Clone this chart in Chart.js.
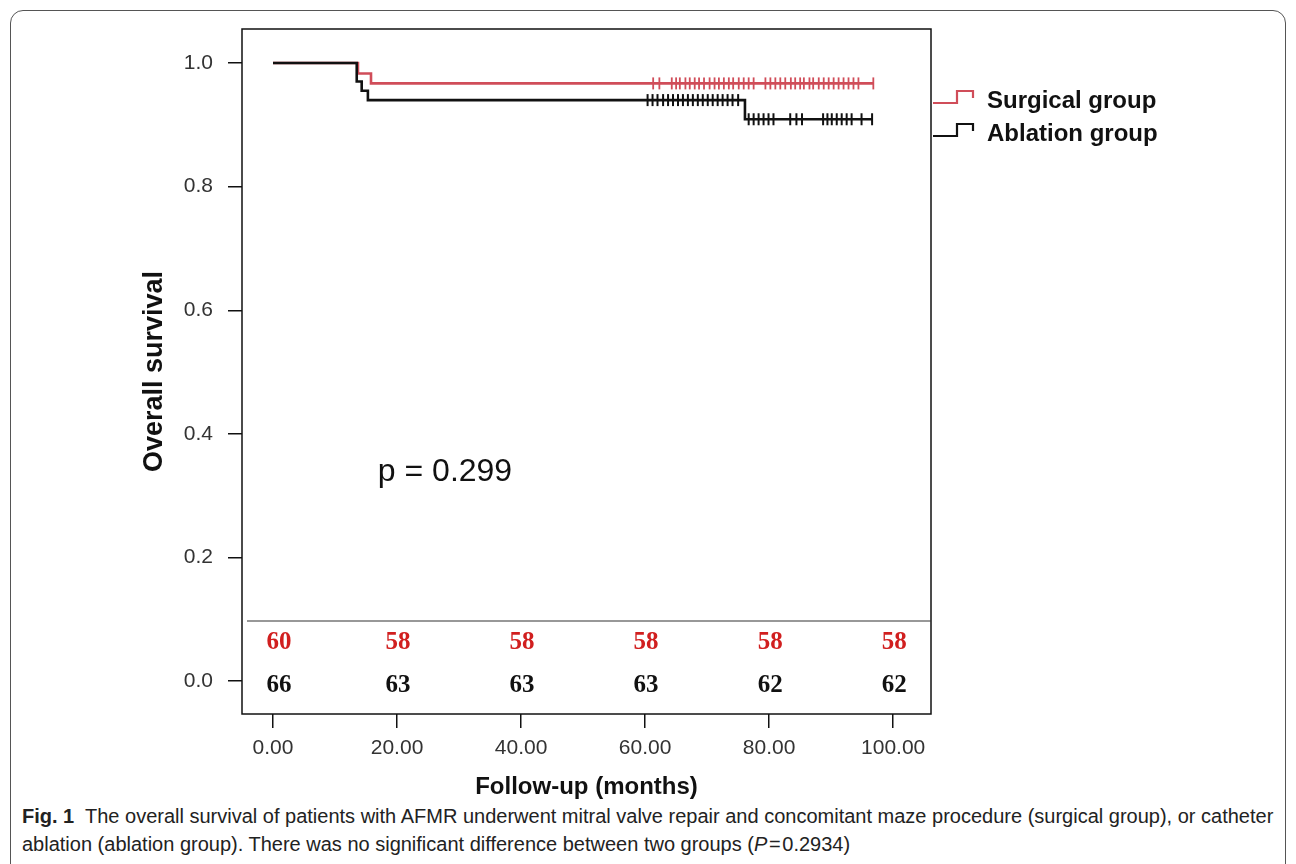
<!DOCTYPE html>
<html>
<head>
<meta charset="utf-8">
<script src="https://cdn.jsdelivr.net/npm/chart.js@4.4.1/dist/chart.umd.min.js"></script>
<style>
  html, body { margin: 0; padding: 0; background: #fff; width: 1296px; height: 864px; overflow: hidden; }
  #frame { position: absolute; left: 10px; top: 10px; width: 1274px; height: 900px; border: 1.5px solid #555; border-radius: 13px; }
  #wrap { position: absolute; left: 0; top: 0; width: 1296px; height: 800px; }
  #cap { position: absolute; left: 22px; top: 802px; font-family: 'Liberation Sans', Arial, sans-serif; font-size: 20px; line-height: 28px; color: #222; white-space: nowrap; }
</style>
</head>
<body>
<div id="frame"></div>
<div id="wrap"><canvas id="myChart" width="1296" height="800"></canvas></div>
<div id="cap"><b>Fig. 1</b>&nbsp; The overall survival of patients with AFMR underwent mitral valve repair and concomitant maze procedure (surgical group), or catheter<br>ablation (ablation group). There was no significant difference between two groups (<i>P</i>&#8202;=&#8202;0.2934)</div>
<script>
const xTicks = [0, 20, 40, 60, 80, 100];
const yTicks = [0, 0.2, 0.4, 0.6, 0.8, 1.0];

// Kaplan-Meier steps (time in months, survival after the event)
const surgicalTimes = [0, 13.7, 15.8, 96.8];
const surgicalSurv = [1.0, 0.983, 0.967, 0.967];
const ablationTimes = [0, 13.5, 14.3, 15.3, 76.1, 96.6];
const ablationSurv = [1.0, 0.970, 0.955, 0.940, 0.909, 0.909];

// censored observations (months)
const surgicalCensored = [61.3, 62.3, 64.3, 65.0, 65.6, 66.5, 67.2, 68.0, 68.7, 69.5, 70.4, 71.2, 71.9, 72.7,
  73.5, 74.2, 75.1, 75.9, 76.7, 77.5, 79.4, 80.2, 81.0, 81.8, 82.6, 83.5, 84.2, 85.0, 85.6, 86.5, 87.1,
  88.0, 88.8, 89.6, 90.4, 91.2, 92.0, 92.8, 93.6, 94.4, 96.8];
const ablationCensored = [60.4, 61.2, 62.0, 62.9, 63.7, 64.5, 65.3, 66.1, 66.9, 67.7, 68.5, 69.3, 70.1, 70.9,
  71.7, 72.5, 73.3, 74.1, 75.0, 76.7, 77.5, 78.3, 79.1, 79.9, 80.7, 83.4, 84.4, 85.3, 88.7, 89.4, 90.1,
  90.9, 91.7, 92.5, 93.3, 94.9, 96.6];

// number at risk
const riskSurgical = [60, 58, 58, 58, 58, 58];
const riskAblation = [66, 63, 63, 63, 62, 62];

const seriesNames = ['Surgical group', 'Ablation group'];
const RED = '#d04d59';
const RISK_RED = '#d11f1f';
const SANS = '"Liberation Sans", Arial, sans-serif';

function survAt(times, surv, t) {
  let s = surv[0];
  for (let i = 0; i < times.length; i++) if (times[i] <= t) s = surv[i];
  return s;
}
const toXY = (times, surv) => times.map((t, i) => ({ x: t, y: surv[i] }));
const censorXY = (cens, times, surv) => cens.map(t => ({ x: t, y: survAt(times, surv, t) }));

const extras = {
  id: 'extras',
  afterDraw(chart) {
    const { ctx, chartArea: a, scales: { x, y } } = chart;
    ctx.save();
    // plot box
    ctx.strokeStyle = '#111';
    ctx.lineWidth = 1.5;
    ctx.strokeRect(a.left, a.top, a.right - a.left, a.bottom - a.top);

    // risk table separator
    ctx.strokeStyle = '#333';
    ctx.lineWidth = 1.2;
    ctx.beginPath();
    ctx.moveTo(a.left + 5, 621);
    ctx.lineTo(a.right, 621);
    ctx.stroke();

    // numbers at risk
    ctx.font = 'bold 25px "Liberation Serif", "Times New Roman", serif';
    ctx.textAlign = 'center';
    ctx.textBaseline = 'middle';
    xTicks.forEach((t, i) => {
      const px = x.getPixelForValue(t) + (i === 0 ? 6 : 1);
      ctx.fillStyle = RISK_RED;
      ctx.fillText(String(riskSurgical[i]), px, 643);
      ctx.fillStyle = '#111';
      ctx.fillText(String(riskAblation[i]), px, 686);
    });

    // p value
    ctx.fillStyle = '#111';
    ctx.font = '32px ' + SANS;
    ctx.textAlign = 'left';
    ctx.fillText('p = 0.299', x.getPixelForValue(16.9), y.getPixelForValue(0.338));

    // axis titles
    ctx.font = 'bold 24px ' + SANS;
    ctx.textAlign = 'center';
    ctx.fillText('Follow-up (months)', (a.left + a.right) / 2, 787);
    ctx.save();
    ctx.translate(155, (a.top + a.bottom) / 2);
    ctx.rotate(-Math.PI / 2);
    ctx.font = 'bold 27px ' + SANS;
    ctx.fillText('Overall survival', 0, 0);
    ctx.restore();

    // legend with step glyphs
    const colors = [RED, '#111'];
    [101, 134].forEach((ly, i) => {
      ctx.strokeStyle = colors[i];
      ctx.lineWidth = 2.2;
      ctx.beginPath();
      ctx.moveTo(a.right + 2, ly + 2);
      ctx.lineTo(a.right + 26, ly + 2);
      ctx.lineTo(a.right + 26, ly - 10);
      ctx.lineTo(a.right + 42, ly - 10);
      ctx.lineTo(a.right + 42, ly - 3);
      ctx.stroke();
      ctx.fillStyle = '#111';
      ctx.font = 'bold 24px ' + SANS;
      ctx.textAlign = 'left';
      ctx.fillText(seriesNames[i], a.right + 56, ly);
    });
    ctx.restore();
  }
};

const tickFont = { family: SANS, size: 21 };

const config = {
  type: 'line',
  data: {
    datasets: [
      {
        label: seriesNames[1],
        data: toXY(ablationTimes, ablationSurv),
        borderColor: '#111',
        borderWidth: 2.6,
        stepped: 'before',
        pointRadius: 0
      },
      {
        label: seriesNames[1] + ' censored',
        data: censorXY(ablationCensored, ablationTimes, ablationSurv),
        showLine: false,
        pointStyle: 'line',
        rotation: 90,
        pointRadius: 6,
        borderColor: '#111',
        borderWidth: 2
      },
      {
        label: seriesNames[0],
        data: toXY(surgicalTimes, surgicalSurv),
        borderColor: RED,
        borderWidth: 2.6,
        stepped: 'before',
        pointRadius: 0
      },
      {
        label: seriesNames[0] + ' censored',
        data: censorXY(surgicalCensored, surgicalTimes, surgicalSurv),
        showLine: false,
        pointStyle: 'line',
        rotation: 90,
        pointRadius: 6,
        borderColor: RED,
        borderWidth: 1.8
      }
    ]
  },
  options: {
    responsive: false,
    animation: false,
    layout: { padding: { left: 0, top: 29, right: 1296 - 931, bottom: 0 } },
    plugins: { legend: { display: false }, tooltip: { enabled: false } },
    scales: {
      x: {
        type: 'linear',
        min: -5,
        max: 106.1,
        afterFit: s => { s.height = 86; },
        afterBuildTicks: s => { s.ticks = xTicks.map(v => ({ value: v })); },
        border: { display: false },
        grid: { drawOnChartArea: false, drawTicks: true, tickLength: 14, color: '#111', lineWidth: 1.5 },
        ticks: {
          color: '#333',
          padding: 8,
          maxRotation: 0,
          font: tickFont,
          callback: v => Number(v).toFixed(2)
        }
      },
      y: {
        min: -0.053,
        max: 1.055,
        afterFit: s => { s.width = 242; },
        afterBuildTicks: s => { s.ticks = yTicks.map(v => ({ value: v })); },
        border: { display: false },
        grid: { drawOnChartArea: false, drawTicks: true, tickLength: 14, color: '#111', lineWidth: 1.5 },
        ticks: {
          color: '#333',
          padding: 15,
          font: tickFont,
          callback: v => Number(v).toFixed(1)
        }
      }
    }
  },
  plugins: [extras]
};

const myChart = new Chart(document.getElementById('myChart'), config);
</script>
</body>
</html>
